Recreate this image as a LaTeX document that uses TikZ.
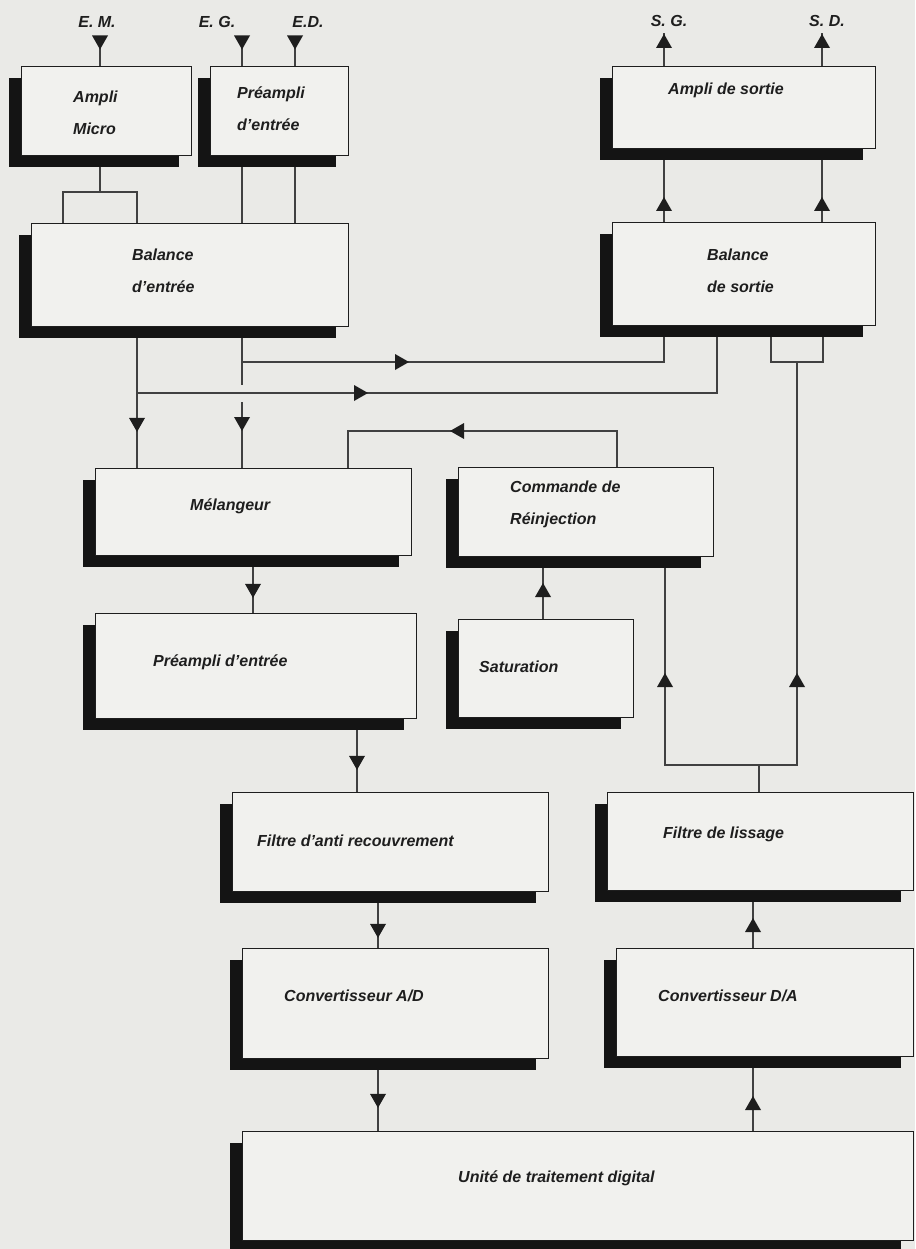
\documentclass[tikz,border=0pt]{standalone}
\usepackage{fontspec}
\setmainfont{Liberation Sans}
\usetikzlibrary{shadows,decorations.markings,backgrounds}
\definecolor{pagebg}{RGB}{234,234,231}
\definecolor{boxbg}{RGB}{241,241,238}
\definecolor{ink}{RGB}{30,30,30}
\definecolor{wirec}{RGB}{65,65,65}
\tikzset{
  box/.style={draw=ink, line width=0.9pt, fill=boxbg, anchor=north west, inner sep=0pt,
    general shadow={fill=black!92, shadow xshift=-12pt, shadow yshift=-12pt}},
  txt/.style={anchor=west, inner sep=0pt, align=left, text=ink,
    font=\fontsize{16}{32}\selectfont\bfseries\itshape},
  io/.style={inner sep=0pt, text=ink, font=\fontsize{16}{18}\selectfont\bfseries\itshape},
  wire/.style={draw=wirec, line width=1.1pt},
  tri/.style={postaction={decorate}, decoration={markings,
    mark=at position #1 with {\fill[ink] (-7,8) -- (7,0) -- (-7,-8) -- cycle;}}},
}
\begin{document}
\begin{tikzpicture}[x=1pt,y=-1pt]
\useasboundingbox (0,0) rectangle (915,1249);
\begin{scope}[on background layer]
  \fill[pagebg] (0,0) rectangle (915,1249);
\end{scope}

% ---------- boxes ----------
\node[box, minimum width=170pt, minimum height=89pt]  (micro) at (21,66) {};
\node[box, minimum width=138pt, minimum height=89pt]  (pre1)  at (210,66) {};
\node[box, minimum width=317pt, minimum height=103pt] (bal)   at (31,223) {};
\node[box, minimum width=263pt, minimum height=82pt]  (as)    at (612,66) {};
\node[box, minimum width=263pt, minimum height=103pt] (bs)    at (612,222) {};
\node[box, minimum width=316pt, minimum height=87pt]  (mel)   at (95,468) {};
\node[box, minimum width=255pt, minimum height=89pt]  (cmd)   at (458,467) {};
\node[box, minimum width=175pt, minimum height=98pt]  (sat)   at (458,619) {};
\node[box, minimum width=321pt, minimum height=105pt] (pre2)  at (95,613) {};
\node[box, minimum width=316pt, minimum height=99pt]  (fa)    at (232,792) {};
\node[box, minimum width=306pt, minimum height=98pt]  (fl)    at (607,792) {};
\node[box, minimum width=306pt, minimum height=110pt] (ca)    at (242,948) {};
\node[box, minimum width=297pt, minimum height=108pt] (cd)    at (616,948) {};
\node[box, minimum width=671pt, minimum height=109pt] (ut)    at (242,1131) {};

% ---------- box texts ----------
\node[txt] (microT) at (73,113)  {Ampli\\Micro};
\node[txt] (pre1T)  at (237,109) {Préampli\\d'entrée};
\node[txt] (balT)   at (132,271) {Balance\\d'entrée};
\node[txt] (asT)    at (668,90)  {Ampli de sortie};
\node[txt] (bsT)    at (707,271) {Balance\\de sortie};
\node[txt] (melT)   at (190,506) {Mélangeur};
\node[txt] (cmdT)   at (510,504) {Commande de\\Réinjection};
\node[txt] (satT)   at (479,667) {Saturation};
\node[txt] (pre2T)  at (153,662) {Préampli d'entrée};
\node[txt] (faT)    at (257,841) {Filtre d'anti recouvrement};
\node[txt] (flT)    at (663,834) {Filtre de lissage};
\node[txt] (caT)    at (284,996) {Convertisseur A/D};
\node[txt] (cdT)    at (658,996) {Convertisseur D/A};
\node[txt] (utT)    at (458,1178) {Unité de traitement digital};

% ---------- input / output labels ----------
\node[io] (EM) at (97,22)  {E. M.};
\node[io] (EG) at (217,22) {E. G.};
\node[io] (ED) at (308,22) {E.D.};
\node[io] (SG) at (669,21) {S. G.};
\node[io] (SD) at (827,21) {S. D.};

% ---------- coordinates ----------
\coordinate (emT) at (100,36);
\coordinate (egT) at (242,36);
\coordinate (edT) at (295,36);
\coordinate (sgT) at (664,33);
\coordinate (sdT) at (822,33);
\coordinate (mj)  at (100,192);
\coordinate (mL)  at (63,192);
\coordinate (mR)  at (137,192);
\coordinate (j1)  at (137,393);
\coordinate (r2)  at (717,393);
\coordinate (j2)  at (242,362);
\coordinate (r1)  at (664,362);
\coordinate (gapA) at (242,385);
\coordinate (gapB) at (242,402);
\coordinate (b1)  at (771,362);
\coordinate (b2)  at (823,362);
\coordinate (bj)  at (797,362);
\coordinate (fj)  at (759,765);
\coordinate (fL)  at (665,765);
\coordinate (fR)  at (797,765);
\coordinate (c617) at (617,431);
\coordinate (c348) at (348,431);
\coordinate (x543) at (543,0);
\coordinate (x253) at (253,0);
\coordinate (x357) at (357,0);
\coordinate (x378) at (378,0);
\coordinate (x753) at (753,0);

% ---------- connectors ----------
\begin{scope}[on background layer]
  \draw[wire, tri=6.5pt] (emT) -- (micro.north -| emT);
  \draw[wire, tri=6.5pt] (egT) -- (pre1.north -| egT);
  \draw[wire, tri=6.5pt] (edT) -- (pre1.north -| edT);

  \draw[wire] (micro.south -| mj) -- (mj);
  \draw[wire] (bal.north -| mL) |- (mR) -- (bal.north -| mR);
  \draw[wire] (pre1.south -| egT) -- (bal.north -| egT);
  \draw[wire] (pre1.south -| edT) -- (bal.north -| edT);

  \draw[wire, tri=98pt] (bal.south -| mR) -- (mel.north -| mR);
  \draw[wire] (bal.south -| egT) -- (gapA);
  \draw[wire, tri=22pt] (gapB) -- (mel.north -| gapB);
  \draw[wire, tri=160pt] (j2) -- (r1) -- (bs.south -| r1);
  \draw[wire, tri=224pt] (j1) -- (r2) -- (bs.south -| r2);

  \draw[wire] (bs.south -| b1) -- (b1) -- (b2) -- (bs.south -| b2);
  \draw[wire] (fl.north -| fj) -- (fj);
  \draw[wire, tri=179pt] (fj) -- (fL) -- (cmd.south -| fL);
  \draw[wire, tri=123pt] (fj) -- (fR) -- (bj);

  \draw[wire, tri=18pt] (bs.north -| sgT) -- (as.south -| sgT);
  \draw[wire, tri=18pt] (bs.north -| sdT) -- (as.south -| sdT);
  \draw[wire, tri=25pt] (as.north -| sgT) -- (sgT);
  \draw[wire, tri=25pt] (as.north -| sdT) -- (sdT);

  \draw[wire, tri=196pt] (cmd.north -| c617) -- (c617) -- (c348) -- (mel.north -| c348);
  \draw[wire, tri=29pt] (sat.north -| x543) -- (cmd.south -| x543);

  \draw[wire, tri=35pt] (mel.south -| x253) -- (pre2.north -| x253);
  \draw[wire, tri=44pt] (pre2.south -| x357) -- (fa.north -| x357);
  \draw[wire, tri=39pt] (fa.south -| x378) -- (ca.north -| x378);
  \draw[wire, tri=42pt] (ca.south -| x378) -- (ut.north -| x378);
  \draw[wire, tri=28pt] (ut.north -| x753) -- (cd.south -| x753);
  \draw[wire, tri=23pt] (cd.north -| x753) -- (fl.south -| x753);
\end{scope}
\end{tikzpicture}
\end{document}
